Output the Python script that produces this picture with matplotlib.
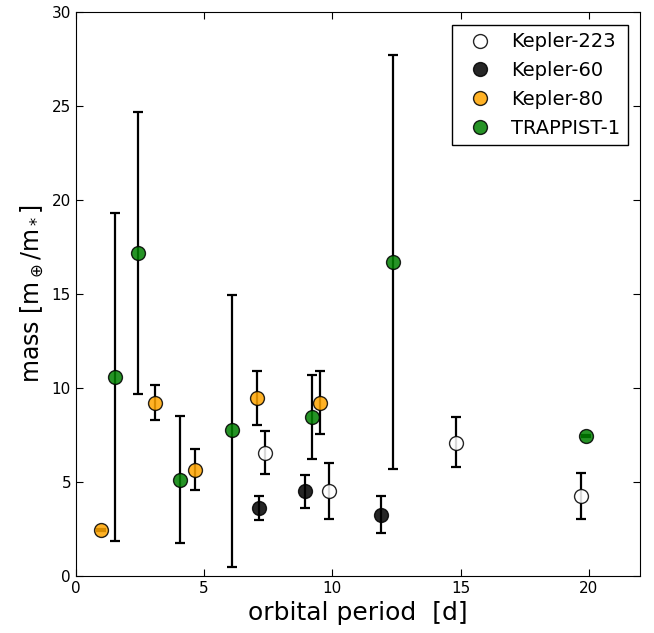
import matplotlib
matplotlib.use("Agg")
import matplotlib.pyplot as plt

# Kepler-223
k223_period = [7.38, 9.85, 14.8, 19.7]
k223_mass = [6.55, 4.5, 7.1, 4.25]
k223_lo = [1.1, 1.45, 1.3, 1.2]
k223_hi = [1.15, 1.5, 1.35, 1.25]

# Kepler-60
k60_period = [7.13, 8.92, 11.9]
k60_mass = [3.6, 4.5, 3.25]
k60_lo = [0.6, 0.9, 0.95]
k60_hi = [0.65, 0.9, 1.0]

# Kepler-80
k80_period = [0.99, 3.07, 4.65, 7.05, 9.52]
k80_mass = [2.45, 9.2, 5.65, 9.47, 9.2]
k80_lo = [0.05, 0.9, 1.1, 1.45, 1.65]
k80_hi = [0.05, 0.95, 1.1, 1.45, 1.7]

# TRAPPIST-1
tr_period = [1.51, 2.42, 4.05, 6.10, 9.21, 12.35, 19.9]
tr_mass = [10.6, 17.2, 5.1, 7.75, 8.45, 16.7, 7.45]
tr_lo = [8.75, 7.5, 3.35, 7.25, 2.2, 11.0, 0.05]
tr_hi = [8.7, 7.5, 3.4, 7.2, 2.25, 11.0, 0.05]

fig = plt.figure(figsize=(6.54, 6.33), dpi=100)
ax = fig.add_axes([0.116, 0.090, 0.863, 0.891])

groups = [
    ("Kepler-223", k223_period, k223_mass, k223_lo, k223_hi, "white"),
    ("Kepler-60", k60_period, k60_mass, k60_lo, k60_hi, "black"),
    ("Kepler-80", k80_period, k80_mass, k80_lo, k80_hi, "orange"),
    ("TRAPPIST-1", tr_period, tr_mass, tr_lo, tr_hi, "green"),
]

for name, x, y, lo, hi, col in groups:
    ax.errorbar(x, y, yerr=[lo, hi], fmt="none", ecolor="black",
                elinewidth=1.6, capsize=3.5, capthick=1.6, zorder=2)
    ax.plot(x, y, "o", color=col, markeredgecolor="black", markersize=10,
            markeredgewidth=1.0, alpha=0.85, label=name, linestyle="none", zorder=3)

ax.set_xlim(0, 22)
ax.set_ylim(0, 30)
ax.set_xticks([0, 5, 10, 15, 20])
ax.set_yticks([0, 5, 10, 15, 20, 25, 30])
ax.tick_params(direction="in", top=True, right=True, labelsize=11, length=5)
ax.set_xlabel("orbital period  [d]", fontsize=18)
ax.set_ylabel(r"mass [m$_\oplus$/m$_*$]", fontsize=17)

leg = ax.legend(loc="upper right", numpoints=1, fontsize=14, fancybox=False,
                edgecolor="black", framealpha=1, borderaxespad=0.65,
                handletextpad=0.6)
leg.get_frame().set_linewidth(1.0)

fig.savefig("out.png", dpi=100)
